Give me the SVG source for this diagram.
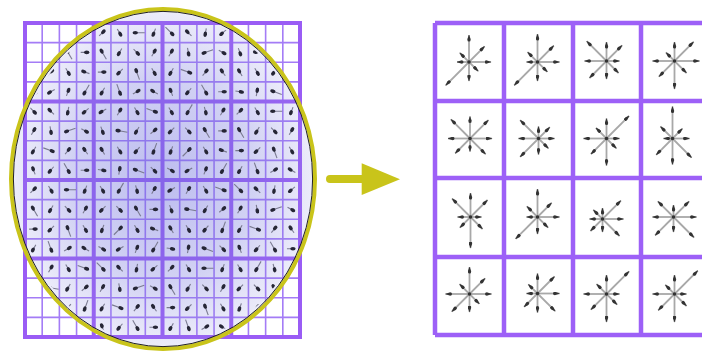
<svg xmlns="http://www.w3.org/2000/svg" width="702" height="354" viewBox="0 0 702 354">
<style>
.thin{fill:none;stroke:#a47cf6;stroke-width:1.6}
.thick{fill:none;stroke:#9a5cf5;stroke-width:4}
.rg{fill:none;stroke:#9d60f7;stroke-width:4.5}
.st line{stroke:#a8a8a8;stroke-width:1.8;marker-end:url(#ah)}
.st circle{fill:#333}
.sa line{stroke:#7a7a90;stroke-width:1.1}
.sa ellipse{fill:#262636}
</style>
<defs>
<radialGradient id="gl" cx="163" cy="179" r="160" gradientUnits="userSpaceOnUse" gradientTransform="translate(163 179) scale(0.95 1.06) translate(-163 -179)">
<stop offset="0" stop-color="#6e6edc" stop-opacity="0.46"/>
<stop offset="0.6" stop-color="#7474dc" stop-opacity="0.33"/>
<stop offset="1" stop-color="#8a8ae0" stop-opacity="0.16"/>
</radialGradient>
<clipPath id="ce"><ellipse cx="163" cy="179" rx="147" ry="165"/></clipPath>
<marker id="ah" viewBox="0 -2 7 4" refX="6.5" refY="0" markerWidth="7" markerHeight="4" markerUnits="userSpaceOnUse" orient="auto"><path d="M0,0 Q0,-1.9 2.5,-1.6 L7,0 L2.5,1.6 Q0,1.9 0,0 z" fill="#333"/></marker>
<g id="a" class="sa"><line x1="-4.5" y1="0" x2="2" y2="0"/><ellipse cx="1.5" cy="0" rx="2.7" ry="1.8"/></g>
<g id="b" class="sa"><line x1="-8" y1="0" x2="2" y2="0"/><ellipse cx="1.5" cy="0" rx="2.7" ry="1.8"/></g>
<g id="bA">
<use href="#a" transform="translate(8.6,9.8) rotate(60)"/><use href="#b" transform="translate(25.8,9.8) rotate(120)"/><use href="#a" transform="translate(43,9.8) rotate(75)"/><use href="#a" transform="translate(60.2,9.8) rotate(300)"/>
<use href="#a" transform="translate(8.6,29.4) rotate(135)"/><use href="#a" transform="translate(25.8,29.4) rotate(45)"/><use href="#b" transform="translate(43,29.4) rotate(240)"/><use href="#a" transform="translate(60.2,29.4) rotate(0)"/>
<use href="#a" transform="translate(8.6,49.1) rotate(110)"/><use href="#b" transform="translate(25.8,49.1) rotate(315)"/><use href="#a" transform="translate(43,49.1) rotate(60)"/><use href="#a" transform="translate(60.2,49.1) rotate(200)"/>
<use href="#a" transform="translate(8.6,68.7) rotate(30)"/><use href="#a" transform="translate(25.8,68.7) rotate(150)"/><use href="#a" transform="translate(43,68.7) rotate(290)"/><use href="#b" transform="translate(60.2,68.7) rotate(120)"/>
</g>
<g id="bB">
<use href="#a" transform="translate(8.6,9.8) rotate(315)"/><use href="#a" transform="translate(25.8,9.8) rotate(60)"/><use href="#b" transform="translate(43,9.8) rotate(180)"/><use href="#a" transform="translate(60.2,9.8) rotate(110)"/>
<use href="#b" transform="translate(8.6,29.4) rotate(240)"/><use href="#a" transform="translate(25.8,29.4) rotate(120)"/><use href="#a" transform="translate(43,29.4) rotate(45)"/><use href="#a" transform="translate(60.2,29.4) rotate(300)"/>
<use href="#a" transform="translate(8.6,49.1) rotate(0)"/><use href="#a" transform="translate(25.8,49.1) rotate(135)"/><use href="#b" transform="translate(43,49.1) rotate(250)"/><use href="#a" transform="translate(60.2,49.1) rotate(60)"/>
<use href="#a" transform="translate(8.6,68.7) rotate(120)"/><use href="#b" transform="translate(25.8,68.7) rotate(70)"/><use href="#a" transform="translate(43,68.7) rotate(330)"/><use href="#a" transform="translate(60.2,68.7) rotate(210)"/>
</g>
<g id="bC">
<use href="#b" transform="translate(8.6,9.8) rotate(45)"/><use href="#a" transform="translate(25.8,9.8) rotate(225)"/><use href="#a" transform="translate(43,9.8) rotate(100)"/><use href="#a" transform="translate(60.2,9.8) rotate(140)"/>
<use href="#a" transform="translate(8.6,29.4) rotate(300)"/><use href="#a" transform="translate(25.8,29.4) rotate(80)"/><use href="#b" transform="translate(43,29.4) rotate(160)"/><use href="#a" transform="translate(60.2,29.4) rotate(30)"/>
<use href="#a" transform="translate(8.6,49.1) rotate(120)"/><use href="#b" transform="translate(25.8,49.1) rotate(20)"/><use href="#a" transform="translate(43,49.1) rotate(310)"/><use href="#a" transform="translate(60.2,49.1) rotate(235)"/>
<use href="#a" transform="translate(8.6,68.7) rotate(250)"/><use href="#a" transform="translate(25.8,68.7) rotate(130)"/><use href="#b" transform="translate(43,68.7) rotate(60)"/><use href="#a" transform="translate(60.2,68.7) rotate(0)"/>
</g>
<g id="bD">
<use href="#a" transform="translate(8.6,9.8) rotate(150)"/><use href="#a" transform="translate(25.8,9.8) rotate(300)"/><use href="#a" transform="translate(43,9.8) rotate(60)"/><use href="#b" transform="translate(60.2,9.8) rotate(20)"/>
<use href="#a" transform="translate(8.6,29.4) rotate(70)"/><use href="#b" transform="translate(25.8,29.4) rotate(190)"/><use href="#a" transform="translate(43,29.4) rotate(120)"/><use href="#a" transform="translate(60.2,29.4) rotate(320)"/>
<use href="#a" transform="translate(8.6,49.1) rotate(240)"/><use href="#a" transform="translate(25.8,49.1) rotate(60)"/><use href="#a" transform="translate(43,49.1) rotate(130)"/><use href="#b" transform="translate(60.2,49.1) rotate(110)"/>
<use href="#a" transform="translate(8.6,68.7) rotate(10)"/><use href="#a" transform="translate(25.8,68.7) rotate(280)"/><use href="#b" transform="translate(43,68.7) rotate(200)"/><use href="#a" transform="translate(60.2,68.7) rotate(45)"/>
</g>
</defs>
<rect width="702" height="354" fill="#fff"/>

<g id="patch">
<path class="thin" d="M42.19,23V337M59.38,23V337M76.56,23V337M110.94,23V337M128.13,23V337M145.31,23V337M179.69,23V337M196.88,23V337M214.06,23V337M248.44,23V337M265.63,23V337M282.81,23V337M25,42.63H300M25,62.25H300M25,81.88H300M25,121.13H300M25,140.75H300M25,160.38H300M25,199.63H300M25,219.25H300M25,238.88H300M25,278.13H300M25,297.75H300M25,317.38H300"/>
<path class="thick" d="M25,23H300V337H25ZM93.75,23V337M162.5,23V337M231.25,23V337M25,101.5H300M25,180H300M25,258.5H300"/>
<ellipse cx="163" cy="179" rx="151" ry="169" fill="url(#gl)"/>
<g clip-path="url(#ce)">
<use href="#bA" x="25" y="23"/><use href="#bB" x="93.75" y="23"/><use href="#bC" x="162.5" y="23"/><use href="#bD" x="231.25" y="23"/>
<use href="#bC" x="25" y="101.5"/><use href="#bD" x="93.75" y="101.5"/><use href="#bA" x="162.5" y="101.5"/><use href="#bB" x="231.25" y="101.5"/>
<use href="#bB" x="25" y="180"/><use href="#bA" x="93.75" y="180"/><use href="#bD" x="162.5" y="180"/><use href="#bC" x="231.25" y="180"/>
<use href="#bD" x="25" y="258.5"/><use href="#bC" x="93.75" y="258.5"/><use href="#bB" x="162.5" y="258.5"/><use href="#bA" x="231.25" y="258.5"/>
</g>
<ellipse cx="163" cy="179" rx="152" ry="170" fill="none" stroke="#c9c41a" stroke-width="4"/>
<ellipse cx="163" cy="179" rx="149.6" ry="167.6" fill="none" stroke="#222" stroke-width="1"/>
</g>

<g id="connectors">
<line x1="330" y1="179" x2="366" y2="179" stroke="#c9c41a" stroke-width="8" stroke-linecap="round"/>
<polygon points="361.7,163.3 400,179.3 361.7,195" fill="#c9c41a"/>
</g>

<g id="descriptor">
<path class="rg" d="M435,23H710M435,101H710M435,178H710M435,257H710M435,335H710M435,23V335M504,23V335M573,23V335M641,23V335"/>
<g id="c00" class="st" transform="translate(469,62)"><line x2="22" y2="0"/><line x2="15.6" y2="-15.6"/><line x2="0" y2="-27"/><line x2="-9.2" y2="-9.2"/><line x2="-12" y2="0"/><line x2="-23.3" y2="23.3"/><line x2="0" y2="19"/><line x2="9.2" y2="9.2"/><circle r="1.8"/></g>
<g id="c01" class="st" transform="translate(537.5,62)"><line x2="22" y2="0"/><line x2="16.3" y2="-16.3"/><line x2="0" y2="-28"/><line x2="-9.9" y2="-9.9"/><line x2="-11" y2="0"/><line x2="-23.3" y2="23.3"/><line x2="0" y2="19"/><line x2="9.9" y2="9.9"/><circle r="1.8"/></g>
<g id="c02" class="st" transform="translate(606.5,61)"><line x2="13" y2="0"/><line x2="15.6" y2="-15.6"/><line x2="0" y2="-19"/><line x2="-19.8" y2="-19.8"/><line x2="-22" y2="0"/><line x2="-17" y2="17"/><line x2="0" y2="18"/><line x2="12" y2="12"/><circle r="1.8"/></g>
<g id="c03" class="st" transform="translate(674.5,61)"><line x2="25" y2="0"/><line x2="19.1" y2="-19.1"/><line x2="0" y2="-19"/><line x2="-8.5" y2="-8.5"/><line x2="-22" y2="0"/><line x2="-15.6" y2="15.6"/><line x2="0" y2="28"/><line x2="12" y2="12"/><circle r="1.8"/></g>
<g id="c10" class="st" transform="translate(470,138.5)"><line x2="22" y2="0"/><line x2="18.4" y2="-18.4"/><line x2="0" y2="-22"/><line x2="-19.1" y2="-19.1"/><line x2="-22" y2="0"/><line x2="-14.8" y2="14.8"/><line x2="0" y2="13"/><line x2="15.6" y2="15.6"/><circle r="1.8"/></g>
<g id="c11" class="st" transform="translate(538.5,138.5)"><line x2="16" y2="0"/><line x2="11.3" y2="-11.3"/><line x2="0" y2="-12"/><line x2="-18.4" y2="-18.4"/><line x2="-20" y2="0"/><line x2="-18.4" y2="18.4"/><line x2="0" y2="16"/><line x2="9.9" y2="9.9"/><circle r="1.8"/></g>
<g id="c12" class="st" transform="translate(606.5,138.5)"><line x2="13" y2="0"/><line x2="22.6" y2="-22.6"/><line x2="0" y2="-20"/><line x2="-10.6" y2="-10.6"/><line x2="-23" y2="0"/><line x2="-15.6" y2="15.6"/><line x2="0" y2="27"/><line x2="9.9" y2="9.9"/><circle r="1.8"/></g>
<g id="c13" class="st" transform="translate(672.5,138.5)"><line x2="17" y2="0"/><line x2="9.9" y2="-9.9"/><line x2="0" y2="-32"/><line x2="-12" y2="-12"/><line x2="-9" y2="0"/><line x2="-16.3" y2="16.3"/><line x2="0" y2="26"/><line x2="19.1" y2="19.1"/><circle r="1.8"/></g>
<g id="c20" class="st" transform="translate(470.5,217)"><line x2="11" y2="0"/><line x2="17" y2="-17"/><line x2="0" y2="-24"/><line x2="-18.4" y2="-18.4"/><line x2="-13" y2="0"/><line x2="-10.6" y2="10.6"/><line x2="0" y2="31"/><line x2="12" y2="12"/><circle r="1.8"/></g>
<g id="c21" class="st" transform="translate(537.5,217)"><line x2="22" y2="0"/><line x2="14.1" y2="-14.1"/><line x2="0" y2="-28"/><line x2="-10.6" y2="-10.6"/><line x2="-11" y2="0"/><line x2="-21.9" y2="21.9"/><line x2="0" y2="17"/><line x2="10.6" y2="10.6"/><circle r="1.8"/></g>
<g id="c22" class="st" transform="translate(602.5,219)"><line x2="21" y2="0"/><line x2="18.4" y2="-18.4"/><line x2="0" y2="-11"/><line x2="-9.2" y2="-9.2"/><line x2="-13" y2="0"/><line x2="-12" y2="12"/><line x2="0" y2="13"/><line x2="17" y2="17"/><circle r="1.8"/></g>
<g id="c23" class="st" transform="translate(673.5,217)"><line x2="23" y2="0"/><line x2="15.6" y2="-15.6"/><line x2="0" y2="-12"/><line x2="-15.6" y2="-15.6"/><line x2="-21" y2="0"/><line x2="-18.4" y2="18.4"/><line x2="0" y2="15"/><line x2="20.5" y2="20.5"/><circle r="1.8"/></g>
<g id="c30" class="st" transform="translate(469.5,294)"><line x2="22" y2="0"/><line x2="15.6" y2="-15.6"/><line x2="0" y2="-27"/><line x2="-9.9" y2="-9.9"/><line x2="-24" y2="0"/><line x2="-17.7" y2="17.7"/><line x2="0" y2="18"/><line x2="9.9" y2="9.9"/><circle r="1.8"/></g>
<g id="c31" class="st" transform="translate(537.5,293.5)"><line x2="22" y2="0"/><line x2="17" y2="-17"/><line x2="0" y2="-20"/><line x2="-9.2" y2="-9.2"/><line x2="-11" y2="0"/><line x2="-13.4" y2="13.4"/><line x2="0" y2="19"/><line x2="17.7" y2="17.7"/><circle r="1.8"/></g>
<g id="c32" class="st" transform="translate(606.5,294)"><line x2="13" y2="0"/><line x2="22.6" y2="-22.6"/><line x2="0" y2="-19"/><line x2="-9.9" y2="-9.9"/><line x2="-23" y2="0"/><line x2="-15.6" y2="15.6"/><line x2="0" y2="28"/><line x2="10.6" y2="10.6"/><circle r="1.8"/></g>
<g id="c33" class="st" transform="translate(674.5,294)"><line x2="12" y2="0"/><line x2="23.3" y2="-23.3"/><line x2="0" y2="-19"/><line x2="-9.2" y2="-9.2"/><line x2="-22" y2="0"/><line x2="-16.3" y2="16.3"/><line x2="0" y2="28"/><line x2="12" y2="12"/><circle r="1.8"/></g>
</g>
</svg>
